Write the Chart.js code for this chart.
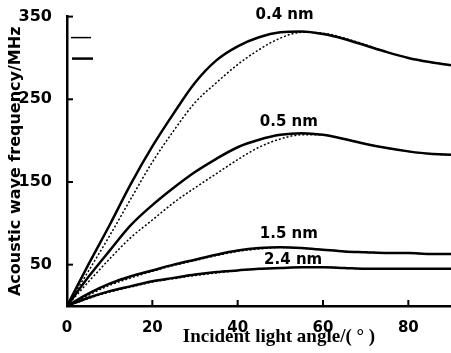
<!DOCTYPE html>
<html>
<head>
<meta charset="utf-8">
<script src="https://cdn.jsdelivr.net/npm/chart.js@4/dist/chart.umd.min.js"></script>
<style>
  body { margin: 0; background: #fff; }
  #wrap { width: 451px; height: 353px; }
</style>
</head>
<body>
<div id="wrap"><canvas id="chart"></canvas></div>
<script>
// incident angle (deg)
const angles = [0, 5, 10, 15, 20, 25, 30, 35, 40, 45, 50, 55, 60, 65, 70, 75, 80, 85, 90];

// acoustic frequency (MHz), solid = measured-looking curve, dotted = second curve
const f04 = [0, 50, 98, 148, 193, 233, 270, 297, 314, 325, 331, 332, 329, 323, 315, 307, 300, 295, 291];
const f04dot = [0, 42, 85, 130, 174, 212, 246, 270, 292, 310, 324, 331, 330, 324, 316, 307, 300, 295, 291];
const f05 = [0, 35, 67, 98, 122, 143, 162, 178, 192, 201, 207, 209, 207, 202, 196, 191, 187, 184, 183];
const f05dot = [0, 29, 57, 83, 104, 125, 143, 160, 177, 192, 202, 207, 207, 202, 196, 191, 187, 184, 183];
const f15 = [0, 15, 27, 36, 43, 50, 56, 62, 67, 70, 71, 70, 68, 66, 65, 64, 64, 63, 63];
const f15dot = [0, 13, 25, 34, 42, 49, 55, 61, 66, 69, 71, 70, 68, 66, 65, 64, 64, 63, 63];
const f24 = [0, 10, 18, 24, 30, 34, 38, 41, 43, 45, 46, 47, 47, 46, 45, 45, 45, 45, 45];
const f24dot = [0, 9, 17, 23, 29, 33, 37, 40, 43, 45, 46, 47, 47, 46, 45, 45, 45, 45, 45];

const xTicks = [0, 20, 40, 60, 80];
const yTicks = [50, 150, 250, 350];

// curve labels: [text, angle, MHz]
const curveLabels = [
  ["0.4 nm", 51, 352],
  ["0.5 nm", 52, 223],
  ["1.5 nm", 52, 87],
  ["2.4 nm", 53, 55]
];

function pts(ys) {
  return ys.map((y, i) => ({ x: angles[i], y: y }));
}

function solid(ys) {
  return { data: pts(ys), borderColor: "#000", borderWidth: 2.5, pointRadius: 0, cubicInterpolationMode: "monotone" };
}
function dotted(ys) {
  return { data: pts(ys), borderColor: "#000", borderWidth: 1.5, borderDash: [2, 2], pointRadius: 0, cubicInterpolationMode: "monotone" };
}

const extras = {
  id: "extras",
  afterDraw(chart) {
    const ctx = chart.ctx;
    const xs = chart.scales.x, ys = chart.scales.y;
    const area = chart.chartArea;
    ctx.save();
    ctx.strokeStyle = "#000";
    ctx.fillStyle = "#000";
    ctx.lineWidth = 2;
    // inward tick marks
    xTicks.forEach(v => {
      if (v === 0) return;
      const px = xs.getPixelForValue(v);
      ctx.beginPath();
      ctx.moveTo(px, area.bottom);
      ctx.lineTo(px, area.bottom - 6);
      ctx.stroke();
    });
    yTicks.forEach(v => {
      const py = ys.getPixelForValue(v);
      ctx.beginPath();
      ctx.moveTo(area.left, py);
      ctx.lineTo(area.left + 6, py);
      ctx.stroke();
    });
    // two short key marks at the top left
    ctx.lineWidth = 1.5;
    ctx.beginPath();
    ctx.moveTo(area.left + 4, area.top + 21);
    ctx.lineTo(area.left + 24, area.top + 21);
    ctx.stroke();
    ctx.lineWidth = 2.5;
    ctx.beginPath();
    ctx.moveTo(area.left + 5, area.top + 42);
    ctx.lineTo(area.left + 26, area.top + 42);
    ctx.stroke();
    // curve labels
    ctx.font = "bold 15px 'DejaVu Sans'";
    ctx.textAlign = "center";
    ctx.textBaseline = "middle";
    curveLabels.forEach(l => {
      ctx.fillText(l[0], xs.getPixelForValue(l[1]), ys.getPixelForValue(l[2]));
    });
    // x axis title
    ctx.font = "bold 19px 'Liberation Serif'";
    ctx.fillText("Incident light angle/( ° )", (area.left + area.right) / 2 + 20, 337);
    ctx.restore();
  }
};

new Chart(document.getElementById("chart"), {
  type: "line",
  data: {
    datasets: [solid(f04), dotted(f04dot), solid(f05), dotted(f05dot),
               solid(f15), dotted(f15dot), solid(f24), dotted(f24dot)]
  },
  options: {
    responsive: true,
    maintainAspectRatio: false,
    animation: false,
    layout: { padding: { top: 13, right: 0, left: 0, bottom: 0 } },
    plugins: { legend: { display: false }, tooltip: { enabled: false } },
    scales: {
      x: {
        type: "linear",
        min: 0,
        max: 90,
        afterBuildTicks: s => { s.ticks = xTicks.map(v => ({ value: v })); },
        afterFit: s => { s.height = 47; },
        grid: { display: false },
        border: { display: true, color: "#000", width: 2.5 },
        ticks: { color: "#000", padding: 5, maxRotation: 0, font: { family: "DejaVu Sans", weight: "bold", size: 15 } }
      },
      y: {
        min: 0,
        max: 350,
        afterBuildTicks: s => { s.ticks = yTicks.map(v => ({ value: v })); },
        afterFit: s => { s.width = 67; },
        grid: { display: false },
        border: { display: true, color: "#000", width: 2.5 },
        ticks: { color: "#000", padding: 7, font: { family: "DejaVu Sans", weight: "bold", size: 16 } },
        title: {
          display: true,
          text: "Acoustic wave frequency/MHz",
          color: "#000",
          padding: { top: 6, bottom: 0 },
          font: { family: "DejaVu Sans", weight: "bold", size: 16 }
        }
      }
    }
  },
  plugins: [extras]
});
</script>
</body>
</html>
